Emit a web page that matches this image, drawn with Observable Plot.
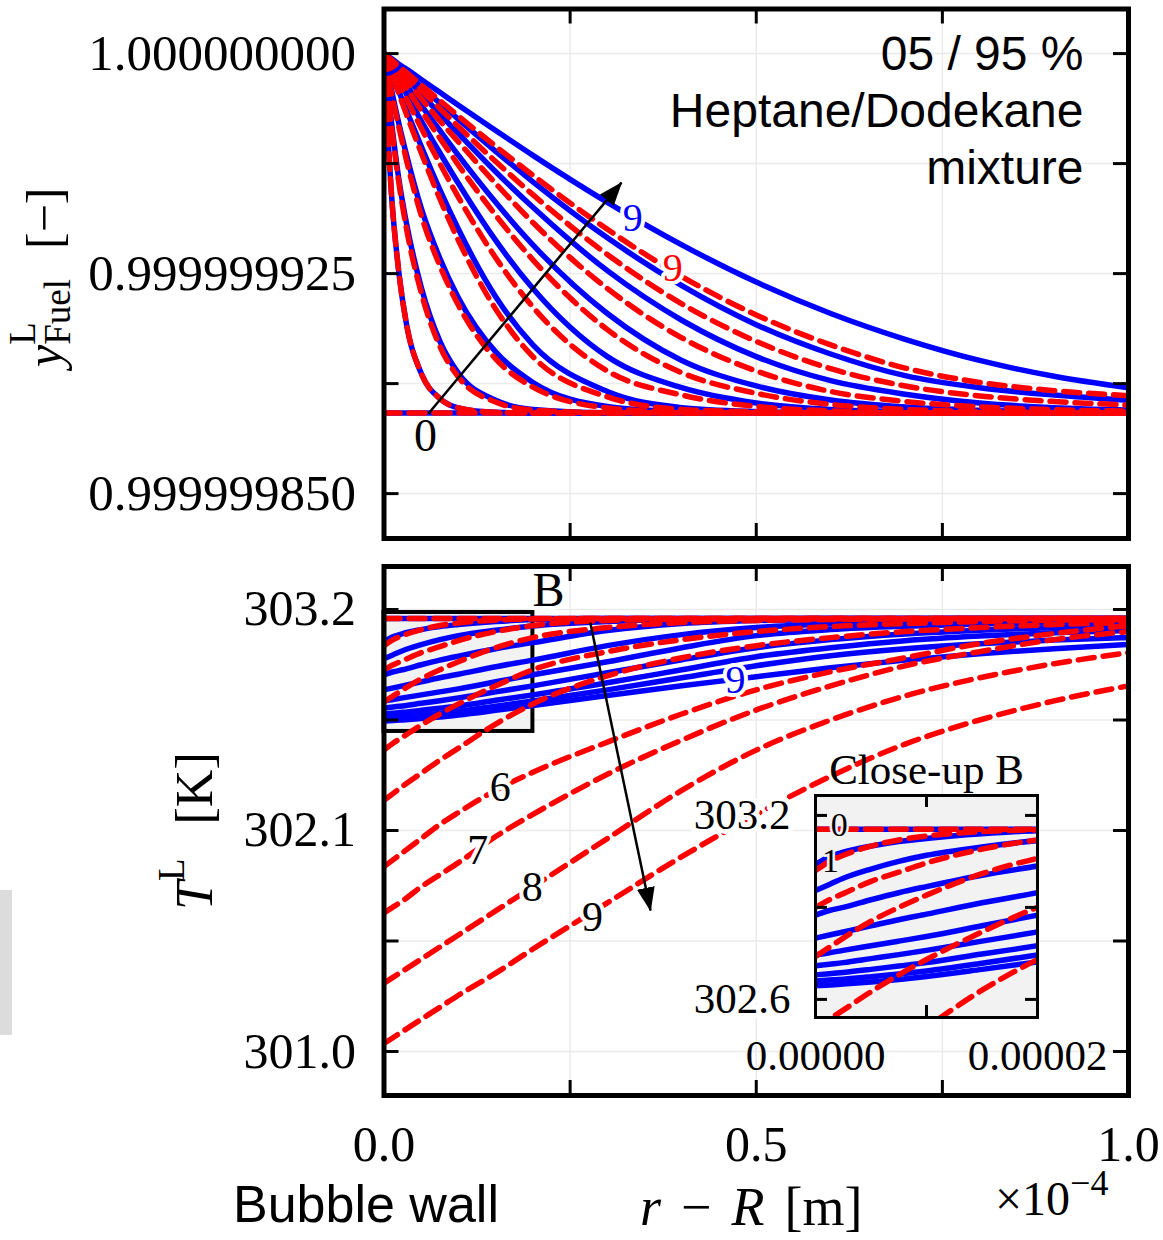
<!DOCTYPE html>
<html>
<head>
<meta charset="utf-8">
<script src="https://cdn.jsdelivr.net/npm/d3@7"></script>
<script src="https://cdn.jsdelivr.net/npm/@observablehq/plot@0.6"></script>
<style>
html,body{margin:0;padding:0;background:#fff;}
#wrap{position:relative;width:1163px;height:1240px;overflow:hidden;background:#fff;}
#wrap svg{position:absolute;}
#sidebar{position:absolute;left:0;top:890px;width:12px;height:145px;background:#dcdcdc;}
</style>
</head>
<body>
<div id="wrap"><div id="sidebar"></div></div>
<script>
// ---------------- DATA ----------------
// radial distance from bubble wall, r - R, in units of 1e-4 m
const rTop = [0, 0.005, 0.01, 0.02, 0.03, 0.05, 0.075, 0.1, 0.15, 0.2, 0.3, 0.4, 0.5, 0.6, 0.7, 0.8, 0.9, 1.0];
const rBot = [0, 0.0125, 0.025, 0.05, 0.075, 0.1, 0.15, 0.2, 0.3, 0.4, 0.5, 0.6, 0.7, 0.8, 0.9, 1.0];

// liquid fuel mass fraction, stored as deficit below 1 in units of 1e-9 (y = 1 - value*1e-9); curves 0..9
const yFuelBlueDeficit = [
  [122.5,122.5,122.5,122.5,122.5,122.5,122.5,122.5,122.5,122.5,122.5,122.5,122.5,122.5,122.5,122.5,122.5,122.5],
  [0,27.0,47.8,74.7,91.9,109.0,117.6,120.8,122.3,122.5,122.5,122.5,122.5,122.5,122.5,122.5,122.5,122.5],
  [0,12.3,23.3,42.9,57.6,79.6,98.0,109.0,118.2,121.3,122.4,122.5,122.5,122.5,122.5,122.5,122.5,122.5],
  [0,6.1,12.3,23.9,34.3,52.7,69.8,83.3,101.7,112.1,120.3,122.1,122.5,122.5,122.5,122.5,122.5,122.5],
  [0,3.2,6.5,12.9,19.2,31.6,46.4,59.9,82.9,99.3,115.2,120.7,122.0,122.4,122.5,122.5,122.5,122.5],
  [0,2.3,4.7,9.2,13.7,22.9,33.8,44.3,63.7,80.1,103.3,113.9,119.1,121.3,122.0,122.4,122.5,122.5],
  [0,1.7,3.6,7.1,10.7,17.6,26.2,34.7,50.7,65.2,88.6,104.6,113.3,118.1,120.5,121.6,122.1,122.4],
  [0,1.3,2.8,5.5,8.3,13.7,20.6,27.3,40.3,52.4,74.0,90.9,103.3,111.5,116.1,119.1,120.7,121.5],
  [0,1.1,2.3,4.5,6.7,11.3,16.9,22.4,33.3,43.7,62.8,79.1,92.4,102.4,109.8,113.9,116.4,118.2],
  [0,0.9,1.7,3.6,5.3,8.8,13.2,17.6,26.2,34.7,50.7,65.2,77.9,88.6,97.4,104.6,110.0,113.9]
];
const yFuelRedDeficit = [
  [122.5,122.5,122.5,122.5,122.5,122.5,122.5,122.5,122.5,122.5,122.5,122.5,122.5,122.5,122.5,122.5,122.5,122.5],
  [0,27.0,47.8,74.7,91.9,109.0,117.6,120.8,122.3,122.5,122.5,122.5,122.5,122.5,122.5,122.5,122.5,122.5],
  [0,12.9,24.5,44.1,59.4,81.5,99.8,110.3,118.8,121.5,122.4,122.5,122.5,122.5,122.5,122.5,122.5,122.5],
  [0,6.7,13.5,25.1,36.1,55.1,72.3,85.8,104.1,113.7,120.8,122.3,122.5,122.5,122.5,122.5,122.5,122.5],
  [0,3.4,6.9,13.7,20.6,33.8,49.5,63.7,87.1,103.3,117.0,121.3,122.1,122.4,122.5,122.5,122.5,122.5],
  [0,2.6,5.1,10.2,15.3,25.4,37.5,49.0,69.6,86.4,108.2,116.4,120.3,121.8,122.3,122.5,122.5,122.5],
  [0,2.0,3.9,7.7,11.6,19.4,28.8,38.0,55.1,70.3,94.1,108.8,115.8,119.6,121.3,122.0,122.3,122.4],
  [0,1.6,3.1,6.1,9.2,15.3,22.9,30.1,44.3,57.6,80.1,96.9,108.2,115.2,118.6,120.4,121.4,121.9],
  [0,1.2,2.5,5.0,7.6,12.5,18.7,24.9,36.8,48.1,68.5,85.3,98.1,107.4,113.3,116.7,118.6,119.8],
  [0,1.1,2.1,4.3,6.4,10.7,16.0,21.3,31.6,41.5,59.9,76.0,89.1,99.3,107.2,112.1,114.9,116.6]
];

// liquid temperature [K], curves 0..9
const TBlue = [
  [303.155,303.155,303.155,303.155,303.155,303.155,303.155,303.155,303.155,303.155,303.155,303.155,303.155,303.155,303.155,303.155],
  [303.04,303.065,303.08,303.10,303.115,303.125,303.14,303.15,303.155,303.155,303.155,303.155,303.155,303.155,303.155,303.155],
  [302.955,302.975,302.995,303.025,303.05,303.07,303.097,303.118,303.14,303.15,303.153,303.155,303.155,303.155,303.155,303.155],
  [302.875,302.89,302.90,302.925,302.948,302.968,303.005,303.035,303.095,303.13,303.145,303.15,303.153,303.155,303.155,303.155],
  [302.80,302.81,302.82,302.84,302.86,302.878,302.915,302.948,303.02,303.075,303.11,303.128,303.138,303.145,303.149,303.152],
  [302.745,302.752,302.76,302.775,302.79,302.805,302.84,302.875,302.94,303.01,303.07,303.10,303.117,303.128,303.135,303.14],
  [302.71,302.715,302.72,302.733,302.746,302.76,302.79,302.82,302.885,302.95,303.01,303.05,303.078,303.097,303.11,303.118],
  [302.68,302.684,302.688,302.698,302.709,302.72,302.748,302.775,302.835,302.90,302.965,303.01,303.045,303.068,303.084,303.095],
  [302.66,302.663,302.666,302.674,302.683,302.693,302.718,302.745,302.80,302.86,302.92,302.97,303.005,303.03,303.048,303.06],
  [302.645,302.647,302.65,302.657,302.665,302.675,302.698,302.722,302.772,302.82,302.865,302.91,302.948,302.98,303.005,303.026]
];
const TRed = [
  [303.155,303.155,303.155,303.155,303.155,303.155,303.155,303.155,303.155,303.155,303.155,303.155,303.155,303.155,303.155,303.155],
  [303.02,303.05,303.07,303.10,303.12,303.133,303.147,303.153,303.155,303.155,303.155,303.155,303.155,303.155,303.155,303.155],
  [302.90,302.925,302.945,302.985,303.015,303.045,303.09,303.12,303.145,303.152,303.155,303.155,303.155,303.155,303.155,303.155],
  [302.74,302.77,302.80,302.855,302.90,302.94,303.01,303.06,303.11,303.135,303.145,303.15,303.153,303.155,303.155,303.155],
  [302.50,302.535,302.565,302.625,302.68,302.73,302.82,302.90,302.99,303.05,303.09,303.115,303.13,303.14,303.147,303.15],
  [302.25,302.285,302.32,302.385,302.45,302.51,302.63,302.73,302.87,302.96,303.02,303.06,303.09,303.11,303.125,303.135],
  [301.92,301.955,301.99,302.06,302.13,302.19,302.30,302.39,302.54,302.68,302.80,302.89,302.96,303.03,303.08,303.12],
  [301.69,301.72,301.75,301.82,301.88,301.94,302.07,302.18,302.38,302.55,302.70,302.82,302.92,302.99,303.05,303.09],
  [301.34,301.37,301.40,301.46,301.52,301.58,301.70,301.82,302.06,302.30,302.50,302.65,302.77,302.86,302.93,302.985],
  [301.04,301.07,301.10,301.16,301.22,301.28,301.39,301.51,301.74,301.97,302.18,302.37,302.53,302.65,302.745,302.82]
];

// axes
const rDomain = [0, 1];
const xTicks = [0, 0.25, 0.5, 0.75, 1.0];
const xTickLabels = [0, 0.5, 1.0];
const yTopDomain = [0.9999998347, 1.0000000152];
const yTopTicks = [0.99999985, 0.9999998875, 0.999999925, 0.9999999625, 1.0];
const yTopTickLabels = [0.99999985, 0.999999925, 1.0];
const TDomain = [300.781, 303.414];
const TTicks = [301.0, 301.55, 302.1, 302.65, 303.2];
const TTickLabels = [301.0, 302.1, 303.2];
const insetRDomain = [0, 0.2];
const insetRTicks = [0, 0.1, 0.2];
const insetRTickLabels = [0, 0.2];
const insetTDomain = [302.541, 303.265];
const insetTTicks = [302.6, 302.9, 303.2];
const insetTTickLabels = [302.6, 303.2];

// annotations
const mixtureNote = "05 / 95 %\nHeptane/Dodekane\nmixture";
const topCurveLabels = [
  {r: 0.0557, dev: 130.6, text: "0", color: "black", size: 46},
  {r: 0.334, dev: 56.2, text: "9", color: "#0000ff", size: 40},
  {r: 0.388, dev: 73.3, text: "9", color: "#ff0000", size: 40}
];
const topArrow = [{r1: 0.0598, dev1: 122.7, r2: 0.319, dev2: 44.0}];
const closeUpB = [{r1: 0, r2: 0.2, T1: 302.593, T2: 303.185}];
const botCurveLabels = [
  {r: 0.221, T: 303.295, text: "B", color: "black", size: 48},
  {r: 0.156, T: 302.314, text: "6", color: "black", size: 42},
  {r: 0.126, T: 301.999, text: "7", color: "black", size: 42},
  {r: 0.199, T: 301.816, text: "8", color: "black", size: 42},
  {r: 0.280, T: 301.667, text: "9", color: "black", size: 42},
  {r: 0.472, T: 302.847, text: "9", color: "#0000ff", size: 40}
];
const botArrow = [{r1: 0.277, T1: 303.135, r2: 0.358, T2: 301.702}];
const insetLabels = [
  {r: 0.0215, T: 303.168, text: "0"},
  {r: 0.0135, T: 303.052, text: "1"}
];

// ---------------- STYLE ----------------
const SERIF = "'Liberation Serif', 'Times New Roman', serif";
const SANS = "'Liberation Sans', Arial, sans-serif";
const BLUE = "#0000ff", RED = "#ff0000", GRID = "#ebebeb";
const DASH = "16,9";
const LW = 5.5;
const W = 1163, ML = 383.5, MR = 35;
const PW = W - ML - MR;
const TK = 15;

function rowsTop(devs) {
  return devs.flatMap((arr, k) => arr.map((d, i) => ({r: rTop[i], y: 1 - d * 1e-9, k})));
}
function rowsBot(temps) {
  return temps.flatMap((arr, k) => arr.map((T, i) => ({r: rBot[i], T, k})));
}
function frameTicks(xs, ys, pw, ph, len, sw) {
  return [
    Plot.tickY(ys, {y: d => d, insetRight: pw - len, stroke: "black", strokeWidth: sw}),
    Plot.tickY(ys, {y: d => d, insetLeft: pw - len, stroke: "black", strokeWidth: sw}),
    Plot.tickX(xs, {x: d => d, insetBottom: ph - len, stroke: "black", strokeWidth: sw}),
    Plot.tickX(xs, {x: d => d, insetTop: ph - len, stroke: "black", strokeWidth: sw})
  ];
}
function fillArrowHeads(svg, id) {
  const s = d3.select(svg);
  const m = s.append("defs").append("marker").attr("id", id)
    .attr("viewBox", "0 -10 24 20").attr("refX", 23).attr("refY", 0)
    .attr("markerWidth", 24).attr("markerHeight", 20)
    .attr("markerUnits", "userSpaceOnUse").attr("orient", "auto");
  m.append("path").attr("d", "M0,-9L24,0L0,9Z").attr("fill", "black");
  s.selectAll('g[aria-label="link"] path').attr("marker-end", `url(#${id})`);
}

// ---------------- TOP PANEL ----------------
const topH = 545, topMT = 8.5, topMB = 7;
const topPH = topH - topMT - topMB;
const topPlot = Plot.plot({
  width: W, height: topH,
  marginLeft: ML, marginRight: MR, marginTop: topMT, marginBottom: topMB,
  x: {domain: rDomain, axis: null},
  y: {domain: yTopDomain, axis: null},
  color: {type: "identity"},
  style: {background: "transparent", fontFamily: SERIF},
  marks: [
    Plot.gridX(xTicks, {stroke: GRID, strokeOpacity: 1, strokeWidth: 1.5}),
    Plot.gridY(yTopTicks, {stroke: GRID, strokeOpacity: 1, strokeWidth: 1.5}),
    Plot.line(rowsTop(yFuelBlueDeficit), {x: "r", y: "y", z: "k", stroke: BLUE, strokeWidth: LW, curve: "monotone-x", clip: true}),
    Plot.line(rowsTop(yFuelRedDeficit), {x: "r", y: "y", z: "k", stroke: RED, strokeWidth: LW, strokeDasharray: DASH, curve: "monotone-x", clip: true}),
    ...frameTicks(xTicks, yTopTicks, PW, topPH, TK, 3),
    Plot.axisY(yTopTickLabels, {tickSize: 0, tickPadding: 28, tickFormat: d3.format(".9f"), fontSize: 51, fontFamily: SERIF, label: null}),
    Plot.link(topArrow, {x1: "r1", y1: d => 1 - d.dev1 * 1e-9, x2: "r2", y2: d => 1 - d.dev2 * 1e-9, stroke: "black", strokeWidth: 2.5}),
    Plot.text(topCurveLabels, {x: "r", y: d => 1 - d.dev * 1e-9, text: "text", fill: "color", fontSize: d => d.size, stroke: "white", strokeWidth: 8, fontFamily: SERIF}),
    Plot.text([mixtureNote], {text: d => d, frameAnchor: "top-right", textAnchor: "end", lineAnchor: "top", dx: -45, dy: 20, fontSize: 48, lineHeight: 1.19, fontFamily: SANS, fill: "black"}),
    Plot.frame({stroke: "black", strokeWidth: 5})
  ]
});
fillArrowHeads(topPlot, "ahTop");
topPlot.style.left = "0px"; topPlot.style.top = "0px";

// ---------------- BOTTOM PANEL ----------------
const botTop = 545, botH = 695, botMT = 21, botMB = 145;
const botPH = botH - botMT - botMB;
const botPlot = Plot.plot({
  width: W, height: botH,
  marginLeft: ML, marginRight: MR, marginTop: botMT, marginBottom: botMB,
  x: {domain: rDomain, axis: null},
  y: {domain: TDomain, axis: null},
  color: {type: "identity"},
  style: {background: "transparent", fontFamily: SERIF},
  marks: [
    Plot.gridX(xTicks, {stroke: GRID, strokeOpacity: 1, strokeWidth: 1.5}),
    Plot.gridY(TTicks, {stroke: GRID, strokeOpacity: 1, strokeWidth: 1.5}),
    Plot.rect(closeUpB, {x1: "r1", x2: "r2", y1: "T1", y2: "T2", fill: "#f2f2f2", stroke: "black", strokeWidth: 4}),
    Plot.line(rowsBot(TBlue), {x: "r", y: "T", z: "k", stroke: BLUE, strokeWidth: LW, curve: "monotone-x", clip: true}),
    Plot.line(rowsBot(TRed), {x: "r", y: "T", z: "k", stroke: RED, strokeWidth: LW, strokeDasharray: DASH, curve: "monotone-x", clip: true}),
    ...frameTicks(xTicks, TTicks, PW, botPH, TK, 3),
    Plot.axisY(TTickLabels, {tickSize: 0, tickPadding: 28, tickFormat: d3.format(".1f"), fontSize: 50, fontFamily: SERIF, label: null}),
    Plot.axisX(xTickLabels, {anchor: "bottom", tickSize: 0, tickPadding: 30, tickFormat: d3.format(".1f"), fontSize: 50, fontFamily: SERIF, label: null}),
    Plot.link(botArrow, {x1: "r1", y1: "T1", x2: "r2", y2: "T2", stroke: "black", strokeWidth: 2.5}),
    Plot.text(botCurveLabels, {x: "r", y: "T", text: "text", fill: "color", fontSize: d => d.size, stroke: "white", strokeWidth: 8, fontFamily: SERIF}),
    Plot.frame({stroke: "black", strokeWidth: 5})
  ]
});
fillArrowHeads(botPlot, "ahBot");
botPlot.style.left = "0px"; botPlot.style.top = botTop + "px";

// ---------------- INSET (Close-up B) ----------------
const inW = 427, inH = 332, inML = 125, inMR = 80, inMT = 50, inMB = 60;
const inPW = inW - inML - inMR, inPH = inH - inMT - inMB;
const insetPlot = Plot.plot({
  width: inW, height: inH,
  marginLeft: inML, marginRight: inMR, marginTop: inMT, marginBottom: inMB,
  x: {domain: insetRDomain, axis: null},
  y: {domain: insetTDomain, axis: null},
  style: {background: "transparent", fontFamily: SERIF, overflow: "visible"},
  marks: [
    Plot.frame({fill: "#f2f2f2", stroke: null}),
    Plot.line(rowsBot(TBlue), {x: "r", y: "T", z: "k", stroke: BLUE, strokeWidth: LW, curve: "monotone-x", clip: true}),
    Plot.line(rowsBot(TRed), {x: "r", y: "T", z: "k", stroke: RED, strokeWidth: LW, strokeDasharray: DASH, curve: "monotone-x", clip: true}),
    ...frameTicks(insetRTicks, insetTTicks, inPW, inPH, 12, 3),
    Plot.text(insetLabels, {x: "r", y: "T", text: "text", fill: "black", fontSize: 34, stroke: "#f2f2f2", strokeWidth: 5, fontFamily: SERIF}),
    Plot.frame({stroke: "black", strokeWidth: 3}),
    Plot.text(insetTTickLabels, {y: d => d, text: d => d3.format(".1f")(d), frameAnchor: "left", textAnchor: "end", dx: -25, fontSize: 43, fontFamily: SERIF, fill: "black", stroke: "white", strokeWidth: 10}),
    Plot.text(insetRTickLabels, {x: d => d, text: d => d3.format(".5f")(d * 1e-4), frameAnchor: "bottom", lineAnchor: "top", dy: 22, fontSize: 43, fontFamily: SERIF, fill: "black"}),
    Plot.text(["Close-up B"], {text: d => d, frameAnchor: "top", lineAnchor: "middle", dy: -25, fontSize: 43, fontFamily: SERIF, fill: "black"})
  ]
});
insetPlot.style.left = (815 - inML) + "px"; insetPlot.style.top = (795 - inMT) + "px";

// ---------------- OVERLAY TITLES ----------------
const ov = d3.create("svg").attr("width", W).attr("height", 1240)
  .style("left", "0px").style("top", "0px").style("pointer-events", "none");

const t1 = ov.append("text").attr("transform", "translate(61,367) rotate(-90)")
  .attr("font-family", SERIF).attr("font-size", 50).attr("fill", "black");
t1.append("tspan").attr("font-style", "italic").text("y");
t1.append("tspan").attr("font-size", 37).attr("dy", -26).text("L");
t1.append("tspan").attr("font-size", 37).attr("dx", -22.6).attr("dy", 35).text("Fuel");
t1.append("tspan").attr("dx", 30).attr("dy", -9).text("[−]");

const t2 = ov.append("text").attr("transform", "translate(212,910) rotate(-90)")
  .attr("font-family", SERIF).attr("font-size", 52).attr("fill", "black");
t2.append("tspan").attr("font-style", "italic").text("T");
t2.append("tspan").attr("font-size", 37).attr("dy", -28).text("L");
t2.append("tspan").attr("dx", 34).attr("dy", 28).text("[K]");

const t3 = ov.append("text").attr("x", 640).attr("y", 1225)
  .attr("font-family", SERIF).attr("font-size", 54).attr("fill", "black");
t3.append("tspan").attr("font-style", "italic").text("r");
t3.append("tspan").attr("dx", 20).text("−");
t3.append("tspan").attr("dx", 20).attr("font-style", "italic").text("R");
t3.append("tspan").attr("dx", 20).text("[m]");

const t4 = ov.append("text").attr("x", 995).attr("y", 1215)
  .attr("font-family", SERIF).attr("font-size", 48).attr("fill", "black");
t4.append("tspan").text("×10");
t4.append("tspan").attr("font-size", 36).attr("dy", -20).text("−4");

ov.append("text").attr("x", 233).attr("y", 1222).attr("font-family", SANS)
  .attr("font-size", 52).attr("fill", "black").text("Bubble wall");

const wrap = document.getElementById("wrap");
wrap.append(topPlot, botPlot, insetPlot, ov.node());
</script>
</body>
</html>
